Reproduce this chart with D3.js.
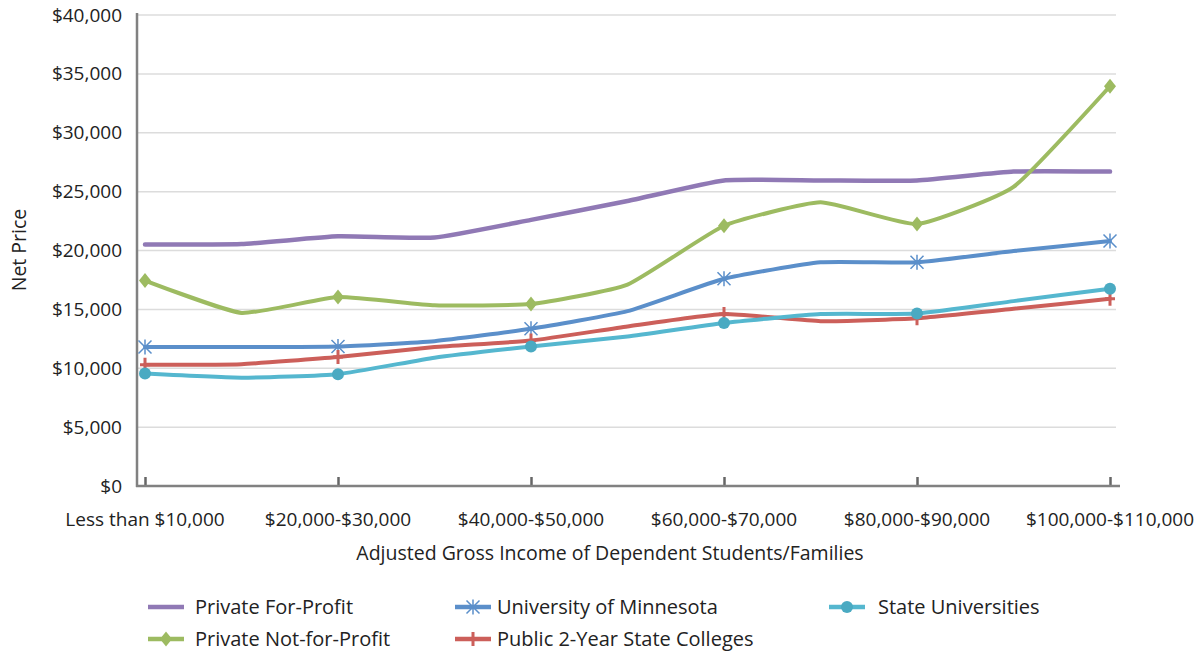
<!DOCTYPE html>
<html><head><meta charset="utf-8">
<script src="https://cdn.jsdelivr.net/npm/d3@7"></script>
<style>
body{margin:0;background:#fff;}
text{font-family:"Open Sans",sans-serif;fill:#222;}
</style></head>
<body><svg id="c" width="1204" height="656"></svg>
<script>
const categories = ["Less than $10,000","$10,000-$20,000","$20,000-$30,000","$30,000-$40,000","$40,000-$50,000","$50,000-$60,000","$60,000-$70,000","$70,000-$80,000","$80,000-$90,000","$90,000-$100,000","$100,000-$110,000"];
const privateForProfit = [20500,20550,21200,21100,22600,24200,25950,25950,25950,26700,26700];
const privateNotForProfit = [17450,14700,16050,15350,15450,17100,22100,24100,22250,25400,33950];
const univMinnesota = [11800,11800,11850,12300,13350,14850,17600,19000,19000,19950,20800];
const public2Year = [10300,10350,10950,11800,12350,13550,14600,14000,14250,15050,15900];
const stateUniv = [9550,9200,9500,10900,11850,12700,13850,14600,14650,15700,16750];
const yTicks = [0,5000,10000,15000,20000,25000,30000,35000,40000];

const series = [
  {name:"Private For-Profit", values:privateForProfit, color:"#9079b5", marker:null},
  {name:"University of Minnesota", values:univMinnesota, color:"#5b8fca", marker:"star"},
  {name:"State Universities", values:stateUniv, color:"#55b7cf", marker:"circle", mcolor:"#4aaac2"},
  {name:"Private Not-for-Profit", values:privateNotForProfit, color:"#9dbb61", marker:"diamond"},
  {name:"Public 2-Year State Colleges", values:public2Year, color:"#cc5f5a", marker:"plus"}
];
const drawOrder = [0,3,1,4,2];

const svg = d3.select("#c");
const x = d3.scalePoint().domain(categories).range([145,1110]);
const y = d3.scaleLinear().domain([0,40000]).range([486,15]);
const left = 137, right = 1116;

// gridlines
svg.append("g").selectAll("line").data(yTicks.filter(d=>d>0)).join("line")
  .attr("x1",left).attr("x2",right).attr("y1",d=>y(d)).attr("y2",d=>y(d))
  .attr("stroke","#dcdcdc").attr("stroke-width",1.5);

// y axis
const yAxis = svg.append("g").attr("transform",`translate(${left},0)`)
  .call(d3.axisLeft(y).tickValues(yTicks).tickSize(0).tickPadding(15).tickFormat(d=>"$"+d3.format(",")(d)));
yAxis.select(".domain").remove();
yAxis.selectAll("text").style("font-size","19px").style("font-family","Open Sans").attr("fill","#222");
svg.append("line").attr("x1",left).attr("x2",left).attr("y1",13).attr("y2",y(0)+1)
  .attr("stroke","#818181").attr("stroke-width",2.5);

// x axis
const labelled = categories.filter((d,i)=>i%2===0);
const xAxis = svg.append("g").attr("transform",`translate(0,${y(0)})`)
  .call(d3.axisTop(x).tickValues(labelled).tickSize(9).tickFormat(""));
xAxis.select(".domain").remove();
xAxis.selectAll(".tick line").attr("stroke","#666").attr("stroke-width",2.5);
svg.append("line").attr("x1",left-1).attr("x2",1120).attr("y1",y(0)).attr("y2",y(0))
  .attr("stroke","#818181").attr("stroke-width",2.5);
svg.append("g").selectAll("text").data(labelled).join("text")
  .attr("x",d=>x(d)).attr("y",526).attr("text-anchor","middle")
  .style("font-size","19px").text(d=>d);

// axis titles
svg.append("text").attr("x",610).attr("y",560).attr("text-anchor","middle")
  .style("font-size","19.5px").text("Adjusted Gross Income of Dependent Students/Families");
svg.append("text").attr("transform","translate(26,250) rotate(-90)").attr("text-anchor","middle")
  .style("font-size","19.5px").text("Net Price");

// lines
const line = d3.line().x((d,i)=>x(categories[i])).y(d=>y(d)).curve(d3.curveCardinal.tension(0.55));

function drawMarker(g, type, color, cx, cy){
  if(type==="circle"){
    g.append("circle").attr("cx",cx).attr("cy",cy).attr("r",6).attr("fill",color);
  } else if(type==="diamond"){
    const s=7.5;
    g.append("path").attr("d",`M${cx},${cy-s}L${cx+s*0.8},${cy}L${cx},${cy+s}L${cx-s*0.8},${cy}Z`).attr("fill",color);
  } else if(type==="star"){
    const s=6.5;
    const p = `M${cx-s},${cy-s}L${cx+s},${cy+s}M${cx-s},${cy+s}L${cx+s},${cy-s}M${cx},${cy-s-1}L${cx},${cy+s+1}`;
    g.append("path").attr("d",p).attr("stroke",color).attr("stroke-width",1.5).attr("fill","none");
  } else if(type==="plus"){
    const p = `M${cx},${cy-7}L${cx},${cy+7}M${cx-5},${cy}L${cx+5},${cy}`;
    g.append("path").attr("d",p).attr("stroke",color).attr("stroke-width",3).attr("fill","none");
  }
}

drawOrder.forEach(k=>{
  const s = series[k];
  const g = svg.append("g");
  g.append("path").datum(s.values).attr("d",line).attr("fill","none")
    .attr("stroke",s.color).attr("stroke-width",k===0?4.5:4).attr("stroke-linecap","round");
  if(s.marker){
    s.values.forEach((v,i)=>{ if(i%2===0) drawMarker(g,s.marker,s.mcolor||s.color,x(categories[i]),y(v)); });
  }
});

// legend
const legendPos = [[148,607],[455,607],[829,607],[148,639],[455,639]];
const legendTextX = [195,497,878,195,497];
series.forEach((s,k)=>{
  const [lx,ly] = legendPos[k];
  const g = svg.append("g");
  g.append("line").attr("x1",lx).attr("x2",lx+36).attr("y1",ly).attr("y2",ly)
    .attr("stroke",s.color).attr("stroke-width",4.5);
  if(s.marker) drawMarker(g,s.marker,s.mcolor||s.color,lx+18,ly);
  g.append("text").attr("x",legendTextX[k]).attr("y",ly+7).style("font-size","20px").text(s.name);
});
</script></body></html>
